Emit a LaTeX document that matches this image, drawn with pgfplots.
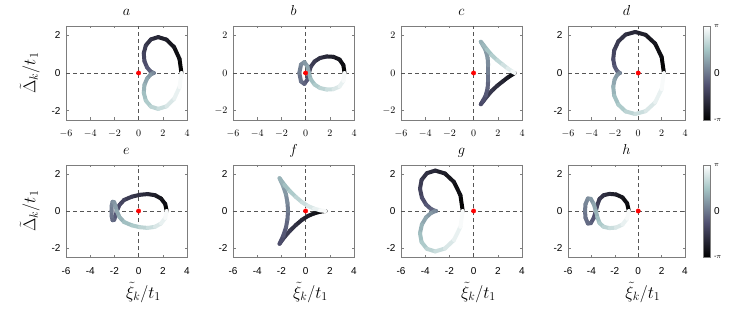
\documentclass[border=0pt]{standalone}
\usepackage{pgfplots}
\pgfplotsset{compat=1.18}
\usepackage{fontspec}
\setsansfont{Liberation Sans}
\definecolor{axgray}{RGB}{125,125,125}
\definecolor{dashgray}{RGB}{85,85,85}
\pgfplotsset{
  colormap={bone}{rgb(0cm)=(0,0,0); rgb(3cm)=(0.3194,0.3194,0.4444); rgb(6cm)=(0.6528,0.7778,0.7778); rgb(8cm)=(1,1,1)},
  panel/.style={scale only axis, anchor=south west,
    xmin=-6, xmax=4, ymin=-2.5, ymax=2.5,
    xtick={-6,-4,-2,0,2,4}, ytick={-2,0,2},
    xticklabel={}, yticklabel={},
    tick align=inside, major tick length=2.5pt,
    tick style={color=axgray, line width=0.6pt},
    axis line style={color=axgray, line width=0.8pt},
    colormap name=bone, point meta min=-180, point meta max=180,
    ticklabel style={font=\sffamily\fontsize{10}{12}\selectfont},
    xticklabel style={yshift=-7pt},
    yticklabel style={xshift=-2pt},
    title style={at={(axis description cs:0.5,1)}, anchor=base, yshift=4pt, font=\fontsize{14}{16}\selectfont},
    clip=true},
  xlab/.style={xticklabels={-6,-4,-2,0,2,4}, xlabel={$\tilde{\xi}_k/t_1$},
    xlabel style={at={(axis description cs:0.64,0)}, anchor=base, yshift=-41pt, inner sep=0pt, font=\fontsize{17.5}{20}\selectfont}},
  ylab/.style={yticklabels={-2,0,2}},
  ylabt/.style={ylabel={$\tilde{\Delta}_k/t_1$},
    ylabel style={at={(axis description cs:-0.30,0.5)}, anchor=center, inner sep=1pt, font=\fontsize{17.5}{20}\selectfont}},
  cbar/.style={colorbar, colorbar style={at={(parent axis.north east)}, anchor=north west, xshift=10pt,
    scale only axis, width=7pt, height=#1,
    ytick={-180,0,180}, yticklabel pos=right,
    yticklabels={{\fontsize{7}{8}\selectfont -$\pi$}, {\sffamily\fontsize{10}{12}\selectfont 0}, {\fontsize{7}{8}\selectfont $\pi$}},
    major tick length=0pt, axis line style={color=axgray, line width=0.8pt}}},
  curve/.style={mesh, point meta=explicit, line width=4pt, line cap=round, line join=round},
}
\newcommand{\guides}{%
  \addplot[dashgray, line width=0.8pt, dash pattern=on 4pt off 3pt] coordinates {(-6,0) (4,0)};
  \addplot[dashgray, line width=0.8pt, dash pattern=on 4pt off 3pt] coordinates {(0,-2.5) (0,2.5)};
}
\newcommand{\reddot}{%
  \addplot[only marks, mark=*, mark size=2.2pt, color=red, mark options={draw=red, fill=red}] coordinates {(0,0)};
}
\begin{document}
\begin{tikzpicture}
\useasboundingbox (0,0) rectangle (739pt,308pt);
% ---------- a ----------
\begin{axis}[panel, ylab, ylabt, at={(66pt,188pt)}, width=121pt, height=94pt, title={$a$}]
\guides
\addplot[curve] coordinates {(3.54,0)[-180] (3.38,0.749)[-165] (2.937,1.372)[-150] (2.306,1.774)[-135] (1.62,1.91)[-120] (1.016,1.788)[-105] (0.6,1.47)[-90] (0.426,1.052)[-75] (0.48,0.636)[-60] (0.694,0.304)[-45] (0.963,0.098)[-30] (1.178,0.013)[-15] (1.26,0)[0] (1.178,-0.013)[15] (0.963,-0.098)[30] (0.694,-0.304)[45] (0.48,-0.636)[60] (0.426,-1.052)[75] (0.6,-1.47)[90] (1.016,-1.788)[105] (1.62,-1.91)[120] (2.306,-1.774)[135] (2.937,-1.372)[150] (3.38,-0.749)[165] (3.54,0)[180]};
\reddot
\end{axis}
% ---------- b ----------
\begin{axis}[panel, at={(233pt,188pt)}, width=121pt, height=94pt, title={$b$}]
\guides
\addplot[curve] coordinates {(3.22,0)[-180] (3.12,0.42)[-165] (2.8,0.72)[-150] (2.3,0.86)[-135] (1.75,0.88)[-120] (1.2,0.8)[-105] (0.75,0.62)[-90] (0.42,0.33)[-75] (0.28,0)[-60] (0.15,-0.35)[-45] (-0.1,-0.58)[-30] (-0.38,-0.45)[-15] (-0.52,0)[0] (-0.38,0.45)[15] (-0.1,0.58)[30] (0.15,0.35)[45] (0.28,0)[60] (0.42,-0.33)[75] (0.75,-0.62)[90] (1.2,-0.8)[105] (1.75,-0.88)[120] (2.3,-0.86)[135] (2.8,-0.72)[150] (3.12,-0.42)[165] (3.22,0)[180]};
\reddot
\end{axis}
% ---------- c ----------
\begin{axis}[panel, at={(401pt,188pt)}, width=121pt, height=94pt, title={$c$}]
\guides
\addplot[curve] coordinates {(3.4,0)[-180] (3.2,-0.08)[-160] (2.8,-0.25)[-140] (2.4,-0.45)[-125] (1.95,-0.68)[-110] (1.5,-0.95)[-95] (1.1,-1.25)[-80] (0.8,-1.5)[-70] (0.6,-1.66)[-60] (0.75,-1.5)[-55] (1.0,-1.2)[-45] (1.16,-0.8)[-30] (1.2,-0.4)[-15] (1.2,0)[0] (1.2,0.4)[15] (1.16,0.8)[30] (1.0,1.2)[45] (0.75,1.5)[55] (0.6,1.66)[60] (0.8,1.5)[70] (1.1,1.25)[80] (1.5,0.95)[95] (1.95,0.68)[110] (2.4,0.45)[125] (2.8,0.25)[140] (3.2,0.08)[160] (3.4,0)[180]};
\reddot
\end{axis}
% ---------- d ----------
\begin{axis}[panel, ylab, cbar=94pt, at={(568pt,188pt)}, width=117pt, height=94pt, title={$d$}]
\guides
\addplot[curve] coordinates {(2.2,0)[-180] (2.001,0.855)[-165] (1.443,1.567)[-150] (0.639,2.028)[-135] (-0.255,2.182)[-120] (-1.078,2.043)[-105] (-1.7,1.68)[-90] (-2.052,1.203)[-75] (-2.135,0.728)[-60] (-2.019,0.348)[-45] (-1.813,0.113)[-30] (-1.631,0.015)[-15] (-1.56,0)[0] (-1.631,-0.015)[15] (-1.813,-0.113)[30] (-2.019,-0.348)[45] (-2.135,-0.728)[60] (-2.052,-1.203)[75] (-1.7,-1.68)[90] (-1.078,-2.043)[105] (-0.255,-2.182)[120] (0.639,-2.028)[135] (1.443,-1.567)[150] (2.001,-0.855)[165] (2.2,0)[180]};
\reddot
\end{axis}
% ---------- e ----------
\begin{axis}[panel, xlab, ylab, ylabt, at={(66pt,51pt)}, width=121pt, height=92pt, title={$e$}]
\guides
\addplot[curve] coordinates {(2.32,0)[-180] (2.2,0.38)[-165] (1.85,0.68)[-150] (1.35,0.86)[-135] (0.75,0.92)[-120] (0.1,0.88)[-105] (-0.55,0.78)[-90] (-1.2,0.6)[-75] (-1.58,0.33)[-60] (-1.8,0)[-50] (-1.92,-0.28)[-40] (-2.02,-0.48)[-30] (-2.15,-0.5)[-20] (-2.22,-0.3)[-10] (-2.24,0)[0] (-2.22,0.3)[10] (-2.15,0.5)[20] (-2.02,0.48)[30] (-1.92,0.28)[40] (-1.8,0)[50] (-1.58,-0.33)[60] (-1.2,-0.6)[75] (-0.55,-0.78)[90] (0.1,-0.88)[105] (0.75,-0.92)[120] (1.35,-0.86)[135] (1.85,-0.68)[150] (2.2,-0.38)[165] (2.32,0)[180]};
\reddot
\end{axis}
% ---------- f ----------
\begin{axis}[panel, xlab, ylab, at={(233pt,51pt)}, width=121pt, height=92pt, title={$f$}]
\guides
\addplot[curve] coordinates {(1.65,0)[-180] (1.2,-0.04)[-165] (0.7,-0.13)[-150] (0.2,-0.27)[-135] (-0.3,-0.48)[-120] (-0.8,-0.76)[-105] (-1.3,-1.08)[-90] (-1.75,-1.42)[-75] (-2.15,-1.78)[-60] (-1.85,-1.35)[-45] (-1.62,-0.9)[-30] (-1.5,-0.45)[-15] (-1.45,0)[0] (-1.5,0.45)[15] (-1.62,0.9)[30] (-1.85,1.35)[45] (-2.15,1.78)[60] (-1.75,1.42)[75] (-1.3,1.08)[90] (-0.8,0.76)[105] (-0.3,0.48)[120] (0.2,0.27)[135] (0.7,0.13)[150] (1.2,0.04)[165] (1.65,0)[180]};
\reddot
\end{axis}
% ---------- g ----------
\begin{axis}[panel, xlab, ylab, at={(401pt,51pt)}, width=121pt, height=92pt, title={$g$}]
\guides
\addplot[curve] coordinates {(-0.9,0)[-180] (-1.091,0.86)[-165] (-1.622,1.577)[-150] (-2.372,2.04)[-135] (-3.175,2.196)[-120] (-3.861,2.055)[-105] (-4.3,1.69)[-90] (-4.431,1.21)[-75] (-4.275,0.732)[-60] (-3.928,0.35)[-45] (-3.528,0.113)[-30] (-3.217,0.015)[-15] (-3.1,0)[0] (-3.217,-0.015)[15] (-3.528,-0.113)[30] (-3.928,-0.35)[45] (-4.275,-0.732)[60] (-4.431,-1.21)[75] (-4.3,-1.69)[90] (-3.861,-2.055)[105] (-3.175,-2.196)[120] (-2.372,-2.04)[135] (-1.622,-1.577)[150] (-1.091,-0.86)[165] (-0.9,0)[180]};
\reddot
\end{axis}
% ---------- h ----------
\begin{axis}[panel, xlab, ylab, cbar=92pt, at={(568pt,51pt)}, width=117pt, height=92pt, title={$h$}]
\guides
\addplot[curve] coordinates {(-0.8,0)[-180] (-0.95,0.42)[-165] (-1.35,0.74)[-150] (-1.9,0.9)[-135] (-2.45,0.93)[-120] (-2.95,0.86)[-105] (-3.3,0.66)[-90] (-3.48,0.36)[-75] (-3.62,0)[-60] (-3.8,-0.38)[-45] (-4.05,-0.66)[-30] (-4.3,-0.68)[-20] (-4.5,-0.38)[-10] (-4.55,0)[0] (-4.5,0.38)[10] (-4.3,0.68)[20] (-4.05,0.66)[30] (-3.8,0.38)[45] (-3.62,0)[60] (-3.48,-0.36)[75] (-3.3,-0.66)[90] (-2.95,-0.86)[105] (-2.45,-0.93)[120] (-1.9,-0.9)[135] (-1.35,-0.74)[150] (-0.95,-0.42)[165] (-0.8,0)[180]};
\reddot
\end{axis}
\end{tikzpicture}
\end{document}
